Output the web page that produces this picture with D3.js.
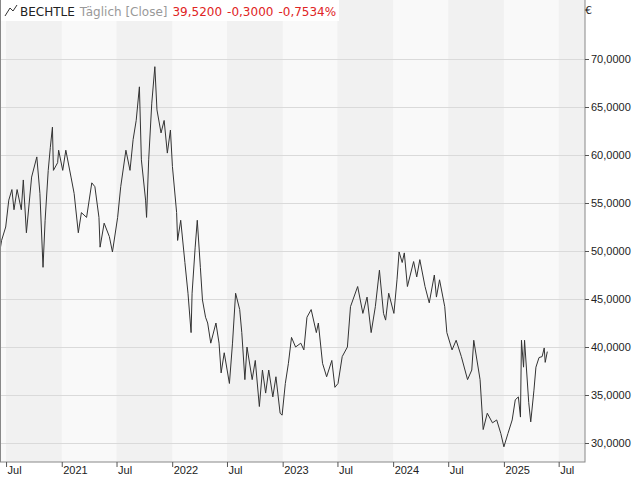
<!DOCTYPE html>
<html><head><meta charset="utf-8">
<script src="https://cdn.jsdelivr.net/npm/d3@7"></script>
<style>body{margin:0;background:#fff}svg{display:block;font-family:"DejaVu Sans",sans-serif}</style>
</head><body><svg id="c" width="640" height="480"></svg>
<script>
const times=[2020.429,2020.457,2020.494,2020.522,2020.550,2020.569,2020.597,2020.635,2020.653,2020.681,2020.728,2020.775,2020.803,2020.831,2020.850,2020.878,2020.897,2020.916,2020.925,2020.963,2020.972,2021.009,2021.037,2021.084,2021.112,2021.150,2021.178,2021.225,2021.272,2021.300,2021.337,2021.347,2021.384,2021.431,2021.459,2021.506,2021.534,2021.581,2021.618,2021.646,2021.674,2021.703,2021.721,2021.759,2021.768,2021.787,2021.815,2021.843,2021.862,2021.899,2021.927,2021.956,2021.984,2022.002,2022.040,2022.049,2022.077,2022.115,2022.143,2022.171,2022.180,2022.208,2022.227,2022.255,2022.274,2022.302,2022.321,2022.349,2022.396,2022.424,2022.443,2022.471,2022.518,2022.546,2022.574,2022.611,2022.630,2022.658,2022.677,2022.724,2022.752,2022.789,2022.817,2022.846,2022.874,2022.911,2022.939,2022.977,2022.995,2023.024,2023.052,2023.080,2023.117,2023.164,2023.192,2023.220,2023.258,2023.305,2023.323,2023.361,2023.398,2023.445,2023.473,2023.501,2023.539,2023.586,2023.614,2023.679,2023.726,2023.764,2023.801,2023.839,2023.876,2023.913,2023.932,2023.960,2024.007,2024.035,2024.054,2024.082,2024.101,2024.129,2024.185,2024.213,2024.241,2024.288,2024.326,2024.372,2024.391,2024.419,2024.466,2024.485,2024.532,2024.569,2024.616,2024.672,2024.710,2024.728,2024.785,2024.813,2024.850,2024.897,2024.935,2024.972,2025.000,2025.037,2025.075,2025.103,2025.131,2025.150,2025.159,2025.178,2025.187,2025.225,2025.243,2025.272,2025.290,2025.318,2025.346,2025.365,2025.374,2025.393];
const closes=[49.1,51.1,52.5,55.3,56.4,54.3,56.4,54.3,57.4,51.9,57.7,59.8,56.0,48.3,53.2,58.4,60.8,62.9,58.4,59.2,60.5,58.4,60.5,57.7,56.0,51.9,54.0,53.5,57.1,56.7,53.5,50.4,52.9,51.5,49.9,53.5,56.7,60.5,58.4,61.6,63.6,67.1,59.5,55.3,53.5,59.5,65.4,69.2,64.7,62.3,63.6,60.2,62.6,58.8,54.0,51.1,53.2,48.8,45.6,41.5,45.6,50.4,53.2,48.3,44.9,43.1,42.5,40.4,42.5,40.4,37.3,39.4,36.2,40.4,45.6,43.9,41.5,36.6,40.0,36.6,38.6,33.8,37.6,35.2,37.6,34.8,36.9,33.1,32.9,36.2,38.3,41.0,40.0,40.4,39.7,43.1,43.9,41.5,42.5,38.3,36.9,38.6,35.8,36.2,39.0,40.0,44.2,46.3,43.5,45.2,41.5,44.2,48.0,43.5,42.8,45.6,43.5,47.0,49.9,48.8,49.8,46.3,48.9,47.3,49.1,46.3,44.6,47.5,45.2,47.0,44.2,41.5,39.7,40.7,39.0,36.6,37.6,40.7,36.6,31.4,33.1,32.1,32.4,31.0,29.6,31.0,32.4,34.5,34.8,32.7,40.7,37.9,40.7,34.2,32.2,35.5,37.9,38.9,39.0,39.9,38.4,39.52];
const yTicks=[30,35,40,45,50,55,60,65,70];
const legendName="BECHTLE", legendMode="Täglich [Close]", legendVals=["39,5200","-0,3000","-0,7534%"];

function toDate(t){const y=Math.floor(t);const s=new Date(y,0,1),e=new Date(y+1,0,1);return new Date(+s+(t-y)*(e-s));}
const data=times.map((t,i)=>({d:toDate(t),v:closes[i]}));
const svg=d3.select("#c");
const W=585,H=462;
const x=d3.scaleTime().domain([new Date(2020,5,11),new Date(2025,8,26)]).range([0,W]);
const y=d3.scaleLinear().domain([30,70]).range([443,59]);
const bandStarts=d3.timeMonth.every(6).range(new Date(2020,0,1),new Date(2026,1,1));
svg.append("rect").attr("x",0).attr("y",0).attr("width",W).attr("height",H).attr("fill","#f9f9f9");
svg.selectAll(".band").data(bandStarts.filter(d=>d.getMonth()===6)).enter().append("rect")
 .attr("x",d=>Math.max(0,x(d))).attr("y",0)
 .attr("width",d=>Math.min(W,x(d3.timeMonth.offset(d,6)))-Math.max(0,x(d))).attr("height",H).attr("fill","#f1f1f1");
svg.selectAll(".grid").data(yTicks).enter().append("line").attr("x1",0).attr("x2",W)
 .attr("y1",d=>Math.round(y(d))+0.5).attr("y2",d=>Math.round(y(d))+0.5).attr("stroke","#dadada");
svg.append("path").datum(data).attr("fill","none").attr("stroke","#333").attr("stroke-width",1)
 .attr("d",d3.line().x(d=>x(d.d)).y(d=>y(d.v)));
svg.append("rect").attr("x",0.5).attr("y",-1).attr("width",W-0.5).attr("height",H+1).attr("fill","none").attr("stroke","#888");
const ya=svg.append("g").attr("transform",`translate(${W},0)`).call(d3.axisRight(y).tickValues(yTicks).tickSize(4).tickFormat(d=>d3.format(".4f")(d).replace(".",",")));
ya.select(".domain").remove();
ya.selectAll("text").attr("font-size",11).attr("fill","#222").attr("x",6);
ya.selectAll("line").attr("stroke","#555");
svg.append("text").attr("x",585).attr("y",14).attr("font-size",11).attr("fill","#222").text("€");
const xa=svg.append("g").attr("transform",`translate(0,${H})`).call(d3.axisBottom(x).ticks(d3.timeMonth.every(6)).tickSize(5)
 .tickFormat(d=>d.getMonth()===0?d.getFullYear():"Jul"));
xa.select(".domain").remove();
xa.selectAll("line").attr("stroke","#555");
xa.selectAll("text").attr("font-size",11).attr("fill","#222").attr("text-anchor","start").attr("x",1).attr("y",4).attr("dy","0.75em");
svg.append("rect").attr("x",1).attr("y",0).attr("width",338).attr("height",21).attr("fill","#fff");
svg.append("path").attr("d","M5,16 L10,8 L13,11 L17,5").attr("fill","none").attr("stroke","#333");
const lt=svg.append("text").attr("x",20).attr("y",16).attr("font-size",12);
lt.append("tspan").attr("fill","#222").text(legendName);
lt.append("tspan").attr("fill","#999").attr("dx",5).text(legendMode);
legendVals.forEach(v=>lt.append("tspan").attr("fill","#e02424").attr("dx",5).text(v));
</script></body></html>
